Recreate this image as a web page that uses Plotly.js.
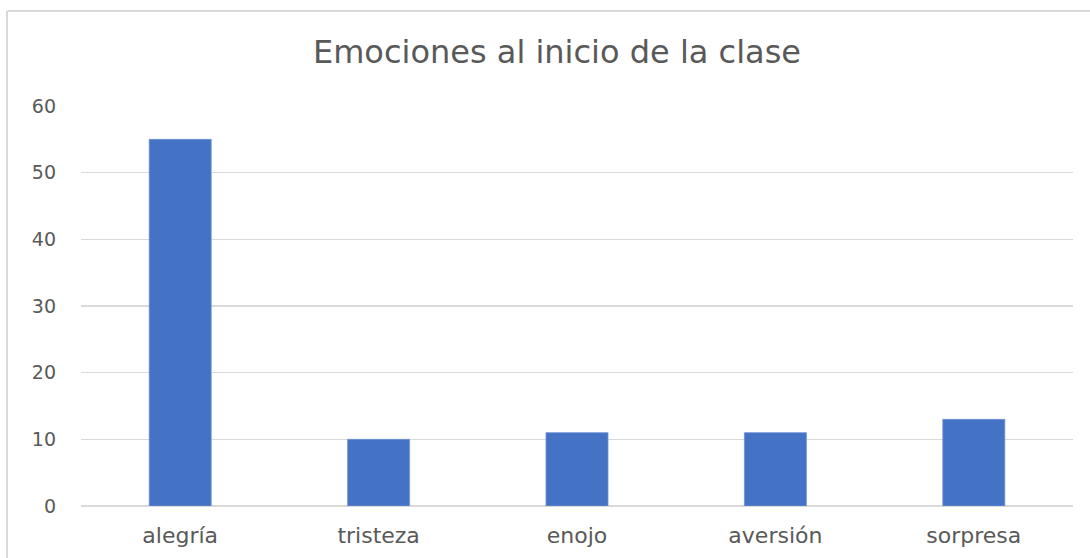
<!DOCTYPE html>
<html>
<head>
<meta charset="utf-8">
<script src="https://cdn.plot.ly/plotly-3.0.1.min.js"></script>
<style>
html,body{margin:0;padding:0;background:#fff;}
#chart{width:1090px;height:558px;}
</style>
</head>
<body>
<div id="chart"></div>
<script>
const categories = ["alegría", "tristeza", "enojo", "aversión", "sorpresa"];
const values = [55, 10, 11, 11, 13];
const yTicks = [0, 10, 20, 30, 40, 50, 60];
const chartTitle = "Emociones al inicio de la clase";

const fontFam = "'DejaVu Sans', 'Open Sans', sans-serif";
const textColor = "#595959";

const data = [{
  type: "bar",
  x: categories,
  y: values,
  marker: {color: "#4472C4", line: {color: "#6f93d6", width: 0.8}},
  hoverinfo: "x+y"
}];

const layout = {
  width: 1090,
  height: 558,
  margin: {l: 81, r: 17, t: 106, b: 52},
  paper_bgcolor: "#ffffff",
  plot_bgcolor: "#ffffff",
  bargap: 0.6875,
  showlegend: false,
  title: {
    text: chartTitle,
    font: {family: fontFam, size: 32, color: textColor},
    xref: "container", x: 0.511, xanchor: "center",
    yref: "container", y: 0.907, yanchor: "middle"
  },
  xaxis: {
    type: "category",
    showgrid: false,
    zeroline: false,
    showline: false,
    ticks: "",
    ticklabelstandoff: 14,
    tickfont: {family: fontFam, size: 22, color: textColor}
  },
  yaxis: {
    range: [0, 60],
    tickvals: yTicks,
    ticktext: yTicks.map(String),
    showgrid: true,
    gridcolor: "#d9d9d9",
    gridwidth: 1.5,
    zeroline: true,
    zerolinecolor: "#d9d9d9",
    zerolinewidth: 1.5,
    showline: false,
    ticks: "",
    ticklabelstandoff: 24,
    tickfont: {family: fontFam, size: 19, color: textColor}
  },
  shapes: [
    {type: "line", xref: "paper", yref: "paper",
     x0: -0.0746, x1: -0.0746, y0: 1.2375, y1: -0.2,
     line: {color: "#d9d9d9", width: 2}},
    {type: "line", xref: "paper", yref: "paper",
     x0: -0.0746, x1: 1.05, y0: 1.2375, y1: 1.2375,
     line: {color: "#d9d9d9", width: 2}}
  ]
};

Plotly.newPlot("chart", data, layout, {displayModeBar: false, staticPlot: true});
</script>
</body>
</html>
